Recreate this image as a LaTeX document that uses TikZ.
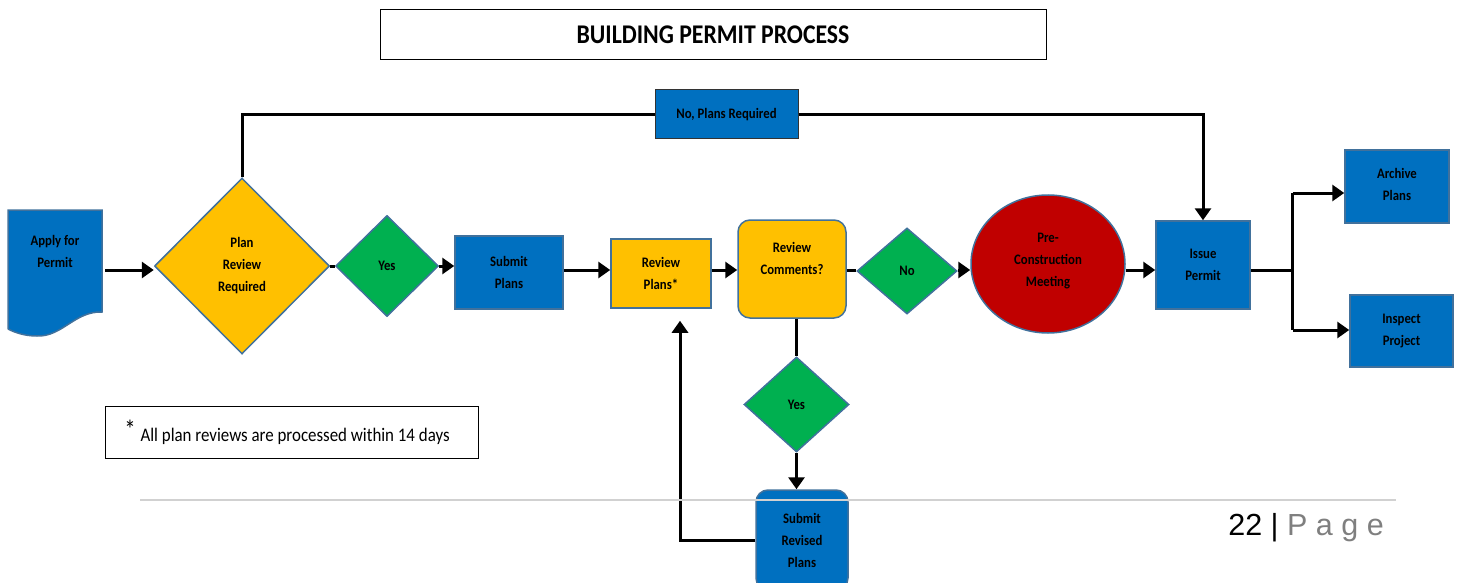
\documentclass[tikz,border=0pt]{standalone}
\usepackage{fontspec}
\setmainfont{Carlito}[FakeStretch=0.88]
\newfontfamily\pagefont{Liberation Sans}
\usetikzlibrary{arrows.meta, calc, shapes.geometric}
\definecolor{boxblue}{HTML}{0070C0}
\definecolor{boxyellow}{HTML}{FFC000}
\definecolor{boxgreen}{HTML}{00B050}
\definecolor{boxred}{HTML}{C00000}
\definecolor{edge}{HTML}{41719C}
\definecolor{pagegray}{HTML}{7F7F7F}

\begin{document}
\begin{tikzpicture}[x=1pt, y=-1pt,
  every node/.style={font=\fontsize{14.5}{22}\selectfont\bfseries, align=center, inner sep=0pt},
  shp/.style={draw=edge, line width=1.5pt},
  blk/.style={shp, rectangle, fill=boxblue},
  yel/.style={shp, rectangle, fill=boxyellow},
  dia/.style={shp, diamond, aspect=1},
  line/.style={line width=3pt},
  arr/.style={line, -{Triangle[length=12pt,width=16pt]}}]
\useasboundingbox (0,0) rectangle (1457,583);
\coordinate (row) at (0,270);
% Title and note
\node[draw, line width=1pt, minimum width=666pt, minimum height=50pt,
      font=\fontsize{27}{30}\selectfont\bfseries] (title) at (713,35) {BUILDING PERMIT PROCESS};
\node[draw, line width=1pt, minimum width=373pt, minimum height=52pt,
      font=\fontsize{19.2}{22}\selectfont] (note) at (291.5,432)
      {\raisebox{3pt}{\fontsize{26}{26}\selectfont*}\hspace{1pt} All plan reviews are processed within 14 days\hspace*{9pt}};
% Document shape
\fill[boxblue] (8,210) -- (102,210) -- (102,312)
  .. controls (75,311) and (62,337) .. (37,336) .. controls (22,336) and (12,331) .. (8,329) -- cycle;
\draw[edge, line width=1.5pt] (8,329) -- (8,210) -- (102,210) -- (102,312)
  .. controls (75,311) and (62,337) .. (37,336) .. controls (22,336) and (12,331) .. (8,329);
\node[minimum width=94pt, minimum height=120pt] (apply) at (55,270) {};
\node (applytxt) at (55,251) {Apply for\\Permit};
% Main row
\node[dia, fill=boxyellow, minimum width=175pt, minimum height=176pt] (plan) at (242,266) {Plan\\Review\\Required};
\node[dia, fill=boxgreen, minimum width=103pt, minimum height=101pt] (yes1) at (387,266) {Yes};
\node[blk, minimum width=108pt, minimum height=73pt] (submit) at (509,272.5) {Submit\\Plans};
\node[yel, minimum width=100pt, minimum height=69pt] (review) at (661,273.5) {Review\\Plans*};
\node[yel, rounded corners=12pt, minimum width=108pt, minimum height=98pt, text depth=22pt] (comments) at (792,269) {Review\\Comments?};
\node[dia, fill=boxgreen, minimum width=100pt, minimum height=86pt] (no) at (907,271) {No};
\node[shp, ellipse, fill=boxred, minimum width=154pt, minimum height=138pt, text depth=8pt] (meeting) at (1048,264) {Pre-\\Construction\\Meeting};
\node[blk, minimum width=94pt, minimum height=88pt] (issue) at (1203,265) {Issue\\Permit};
\node[blk, minimum width=104pt, minimum height=73pt, text depth=5pt] (archive) at (1397,186.5) {Archive\\Plans};
\node[blk, minimum width=103pt, minimum height=72pt] (inspect) at (1401.5,331) {Inspect\\Project};
% Loops
\node[blk, draw=black!80, line width=1pt, minimum width=143pt, minimum height=49pt] (noplans) at (726.5,114.5) {No, Plans Required};
\node[dia, fill=boxgreen, minimum width=105pt, minimum height=95pt] (yes2) at (796.5,404.5) {Yes};
\node[blk, rounded corners=12pt, minimum width=92pt, minimum height=100pt] (revised) at (802,540) {Submit\\Revised\\Plans};
% Connectors
\draw[arr, shorten <=3pt] (apply.east |- row) -- (plan.west |- row);
\draw[line] (plan.east) -- (yes1.west);
\draw[arr] (yes1.east) -- (yes1.east -| submit.west);
\draw[arr] (submit.east |- row) -- (review.west |- row);
\draw[arr] (review.east |- row) -- (comments.west |- row);
\draw[line] (comments.east |- row) -- (no.west |- row);
\draw[arr] (no.east |- row) -- (meeting.west |- row);
\draw[arr] (meeting.east |- row) -- (issue.west |- row);
\draw[line] (issue.east |- row) -- ++(42,0) coordinate (fork);
\coordinate (forkA) at ($(fork)+(0,-77)$);
\coordinate (forkB) at ($(fork)+(0,60)$);
\draw[line] (forkA) -- (forkB);
\draw[arr] (forkA) -- (forkA -| archive.west);
\draw[arr] (forkB) -- (forkB -| inspect.west);
\draw[line] (plan.north) |- (noplans.west);
\draw[arr] (noplans.east) -| (issue.north);
\draw[line] (yes2.north |- comments.south) -- (yes2.north);
\draw[arr] (yes2.south) -- (yes2.south |- revised.north);
\draw[arr] (revised.west) -| ([xshift=19pt,yshift=-12pt]review.south);
% Page footer
\draw[black!18, line width=1.5pt] (140,500) -- (1396,500);
\node[anchor=base east, font=\pagefont\fontsize{30.5}{32}\selectfont] (pagenum) at (1384,535)
  {22 | \textcolor{pagegray}{P a g e}};
\end{tikzpicture}
\end{document}
